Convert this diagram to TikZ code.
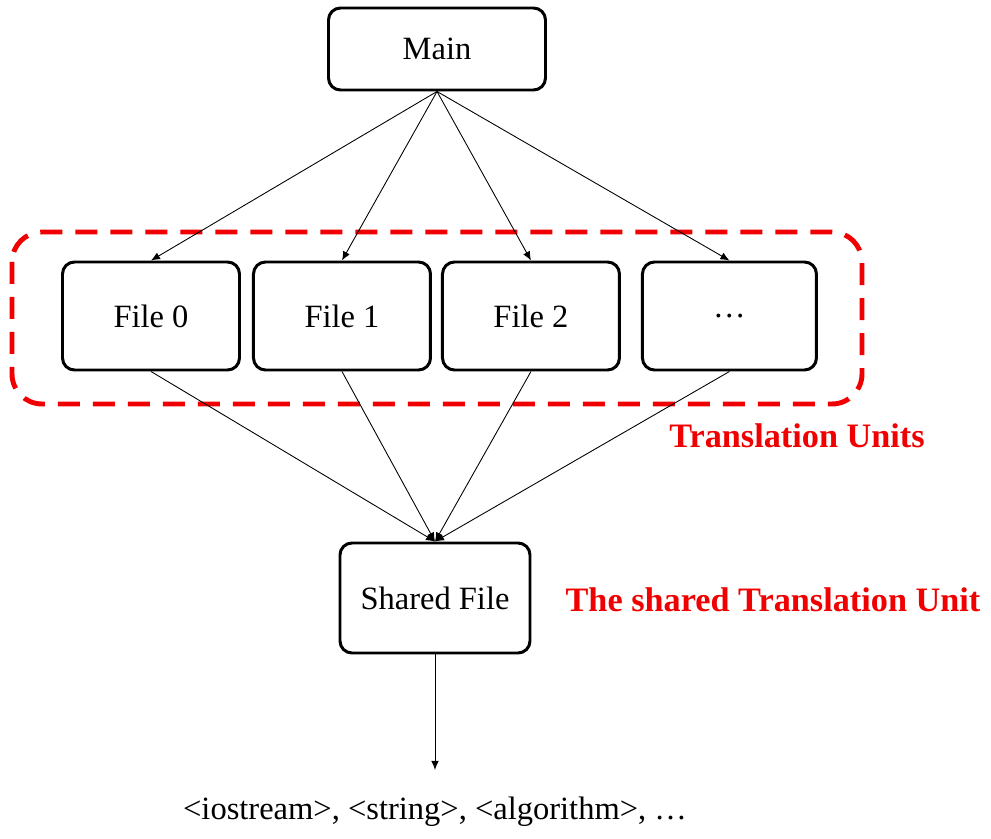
\documentclass[tikz,border=0pt]{standalone}
\usepackage{fontspec}
\setmainfont{Liberation Serif}
\usepackage{xcolor}
\usetikzlibrary{arrows.meta, positioning}
\definecolor{tured}{HTML}{F00000}
\definecolor{boxblack}{HTML}{000000}
\tikzset{
  unit/.style={draw=boxblack, line width=1.7pt, rounded corners=0.24cm, fill=white,
               align=center, minimum width=3.54cm, minimum height=2.16cm,
               font=\fontsize{18.5}{22}\selectfont},
  top/.style={unit, minimum width=4.34cm, minimum height=1.64cm},
  shared/.style={unit, minimum width=3.8cm, minimum height=2.2cm},
  group/.style={draw=tured, line width=2.8pt, rounded corners=0.6cm,
                dash pattern=on 0.44cm off 0.26cm},
  tag/.style={text=tured, font=\fontsize{19.5}{23}\selectfont\bfseries},
  flow/.style={-{Latex[length=1.8mm, width=1.5mm]}, line width=0.5pt, draw=boxblack},
}

\begin{document}
\begin{tikzpicture}
  \useasboundingbox (0,0) rectangle (19.82,-16.78);
  \node (main) [top] at (8.74,-0.98) {Main};
  \node (f0) [unit] at (3.02,-6.32) {File 0};
  \node (f1) [unit, right=0.22cm of f0] {File 1};
  \node (f2) [unit, right=0.18cm of f1] {File 2};
  \node (fd) [unit, right=0.40cm of f2, minimum width=3.48cm] {…};
  % dashed group round the files
  \draw[group] (0.24,-4.64) rectangle (17.24,-8.08);
  \node (tu) [tag] at (15.94,-8.72) {Translation Units};
  \node (sf) [shared] at (8.7,-11.96) {Shared File};
  \node (stu) [tag] at (15.46,-12.0) {The shared Translation Unit};
  \node (libs) [font=\fontsize{18.5}{22}\selectfont] at (8.7,-16.24) {<iostream>, <string>, <algorithm>, …};
  \coordinate (end) at (8.7,-15.4);
  \foreach \f in {f0,f1,f2,fd} {
    \draw[flow] (main.south) -- (\f.north);
    \draw[flow] (\f.south) -- (sf.north);
  }
  \draw[flow] (sf.south) -- (end);
\end{tikzpicture}
\end{document}
